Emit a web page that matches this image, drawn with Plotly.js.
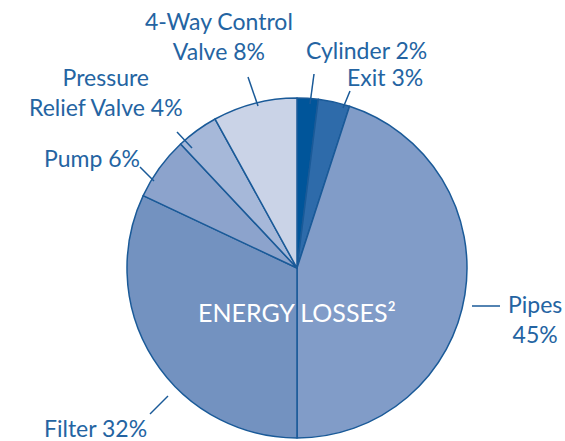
<!DOCTYPE html>
<html><head><meta charset="utf-8">
<script src="https://cdn.plot.ly/plotly-3.0.1.min.js"></script>
<style>html,body{margin:0;padding:0;background:#fff}#chart{width:565px;height:441px}</style>
</head><body><div id="chart"></div>
<script>
const categories = ["Cylinder", "Exit", "Pipes", "Filter", "Pump", "Pressure Relief Valve", "4-Way Control Valve"];
const values = [2, 3, 45, 32, 6, 4, 8];
const labelTexts = ["Cylinder 2%", "Exit 3%", "Pipes<br>45%", "Filter 32%", "Pump 6%", "Pressure<br>Relief Valve 4%", "4-Way Control<br>Valve 8%"];
const colors = ["#00559A", "#2E6BAA", "#819CC8", "#7392C0", "#8CA3CC", "#A6B8D9", "#CAD3E7"];

const W = 565, H = 441;
const P = (x, y) => ({x: x / W, y: 1 - y / H});
const ink = "#2464A2";

// label placement (pixels): text anchor and leader line
const labelPos = [
  {tx: 304, ty: 50, xa: "left", line: [[310,104],[314,74]]},
  {tx: 345, ty: 77, xa: "left", line: [[343,108],[350,91]]},
  {tx: 535, ty: 319, xa: "center", line: [[472,306],[500,306]]},
  {tx: 42, ty: 428, xa: "left", line: [[168,396],[150,414]]},
  {tx: 42, ty: 158, xa: "left", line: [[154,181],[140,167]]},
  {tx: 106, ty: 92, xa: "center", line: [[192,148],[177,132]]},
  {tx: 219, ty: 36, xa: "center", line: [[258,106],[248,77]]}
];

const annotations = labelTexts.map((t, i) => {
  const p = P(labelPos[i].tx, labelPos[i].ty);
  return {text: t, xref: "paper", yref: "paper", x: p.x, y: p.y, xanchor: labelPos[i].xa, yanchor: "middle",
    align: "center", showarrow: false, font: {family: "Lato", size: 23, weight: 400, color: ink}};
});
const c = P(297, 312);
annotations.push({text: "ENERGY LOSSES²", xref: "paper", yref: "paper", x: c.x, y: c.y,
  xanchor: "center", yanchor: "middle", showarrow: false, font: {family: "Lato", size: 25, weight: 400, color: "#ffffff"}});

const shapes = labelPos.map(l => {
  const a = P(l.line[0][0], l.line[0][1]), b = P(l.line[1][0], l.line[1][1]);
  return {type: "line", xref: "paper", yref: "paper", x0: a.x, y0: a.y, x1: b.x, y1: b.y,
    line: {color: "#1A5A98", width: 1.5}};
});

const d0 = P(127, 438), d1 = P(467, 98);
const trace = {
  type: "pie", labels: categories, values: values, sort: false, direction: "clockwise", rotation: 0,
  textinfo: "none", hoverinfo: "label+percent",
  marker: {colors: colors, line: {color: "#1A5A98", width: 1.5}},
  domain: {x: [d0.x, d1.x], y: [d0.y, d1.y]}, showlegend: false
};

Plotly.newPlot("chart", [trace], {
  width: W, height: H, margin: {l: 0, r: 0, t: 0, b: 0},
  paper_bgcolor: "#ffffff", showlegend: false, annotations: annotations, shapes: shapes
}, {displayModeBar: false, staticPlot: true});
</script></body></html>
